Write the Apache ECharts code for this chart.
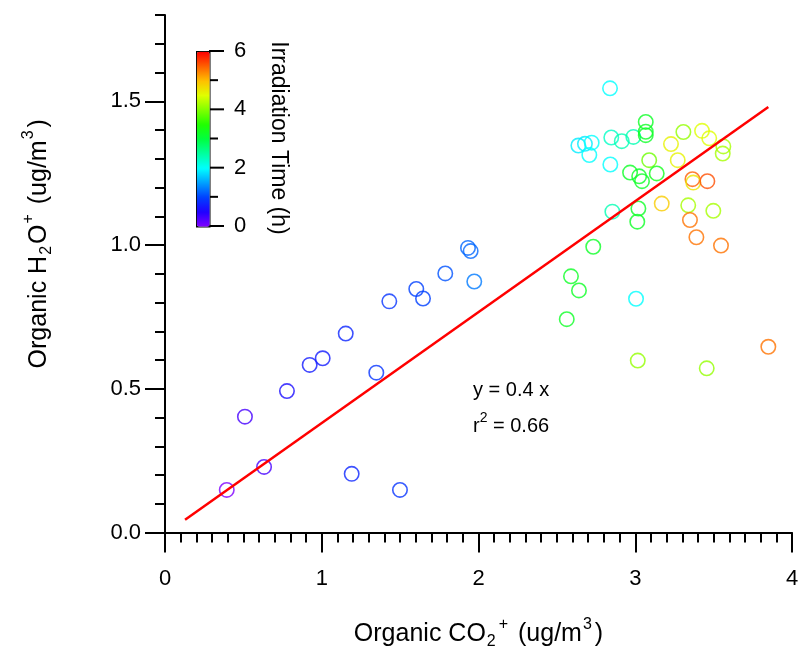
<!DOCTYPE html>
<html><head><meta charset="utf-8">
<script src="https://cdn.jsdelivr.net/npm/echarts@6/dist/echarts.min.js"></script>
<style>html,body{margin:0;padding:0;background:#fff}#c{width:804px;height:655px}</style>
</head><body><div id="c"></div>
<script>
// ---- data ----
const co2 = [0.394,0.510,0.632,0.778,0.923,1.006,1.153,1.348,1.191,1.499,1.431,1.603,1.646,1.788,1.933,1.950,1.973,
  2.839,2.637,2.679,2.722,2.707,2.847,2.841,2.914,2.988,3.067,3.067,3.067,3.089,2.967,3.025,3.043,3.137,2.854,3.020,3.013,2.732,
  3.169,3.228,3.271,3.307,3.426,3.472,3.562,3.558,3.365,3.370,3.460,3.338,3.498,3.349,3.390,3.547,
  2.590,2.641,2.563,3.005,3.016,3.456,3.849];
const h2o = [0.148,0.403,0.228,0.492,0.583,0.606,0.692,0.556,0.204,0.148,0.804,0.847,0.814,0.901,0.990,0.979,0.873,
  1.545,1.346,1.352,1.356,1.313,1.374,1.280,1.361,1.376,1.428,1.394,1.382,1.295,1.252,1.239,1.222,1.249,1.116,1.127,1.081,0.994,
  1.144,1.351,1.295,1.393,1.397,1.371,1.343,1.318,1.229,1.217,1.222,1.138,1.119,1.087,1.027,0.998,
  0.891,0.842,0.742,0.813,0.598,0.571,0.646];
const irrTime = [0.0,0.3,0.3,0.6,0.7,0.7,0.8,0.9,0.8,0.9,0.9,1.0,1.0,1.1,1.2,1.2,1.3,
  2.0,1.9,1.9,2.0,2.0,2.3,2.0,2.4,2.4,3.2,3.2,3.2,3.9,3.2,3.2,3.2,3.3,2.4,3.2,3.2,3.2,
  4.9,4.6,4.6,4.1,4.5,4.5,4.2,4.2,5.5,4.7,5.6,4.2,4.2,5.4,5.4,5.4,
  3.2,3.2,3.2,2.0,4.1,4.1,5.4];
const fitX = [0.128, 3.849];
const fitY = [0.044, 1.480];
const xTicks = [0, 1, 2, 3, 4];
const yTicks = [0.0, 0.5, 1.0, 1.5];
const cbTicks = [0, 2, 4, 6];
const cbMinorTicks = [1, 3, 5];
const fitLabel = 'y = 0.4 x';
const r2Label = '0.66';

// ---- chart ----
const rainbow = ['#8000ff','#2000ff','#0040ff','#00a0ff','#00ffff','#00ffa0','#00ff40','#20ff00','#80ff00','#e0ff00','#ffbf00','#ff6000','#ff0000'];
const FONT = '"Liberation Sans", Arial, sans-serif';
const yMinor = [];
for (let i = 1; i <= 18; i++) { const v = i / 10; if (i % 5 !== 0) yMinor.push(v); }

const scatterData = co2.map((x, i) => [x, h2o[i], irrTime[i]]);
const fitData = fitX.map((x, i) => [x, fitY[i]]);
const ring = 'path://M0,-10A10,10,0,1,1,0,10A10,10,0,1,1,0,-10ZM0,-8A8,8,0,1,0,0,8A8,8,0,1,0,0,-8Z';

const cb = {left: 196, top: 51, w: 13, h: 175};
const cbY = t => cb.top + cb.h * (1 - t / 6);
const graphics = [];
cbTicks.forEach(t => {
  graphics.push({type:'line', shape:{x1:cb.left+cb.w, y1:cbY(t), x2:cb.left+cb.w+15, y2:cbY(t)}, style:{stroke:'#000', lineWidth:2}});
  graphics.push({type:'text', x: cb.left+cb.w+25, y: cbY(t), style:{text:String(t), fontSize:22, fontFamily:FONT, fill:'#000', verticalAlign:'middle', align:'left'}});
});
cbMinorTicks.forEach(t => {
  graphics.push({type:'line', shape:{x1:cb.left+cb.w, y1:cbY(t), x2:cb.left+cb.w+9, y2:cbY(t)}, style:{stroke:'#000', lineWidth:2}});
});
graphics.push({type:'text', x: 278, y: 138, rotation: -Math.PI/2,
  style:{text:'Irradiation Time (h)', fontSize:23, fontFamily:FONT, fill:'#000', align:'center', verticalAlign:'middle'}});
graphics.push({type:'text', x: 473, y: 390, style:{text:fitLabel, fontSize:20, fontFamily:FONT, fill:'#000', verticalAlign:'middle'}});
graphics.push({type:'text', x: 473, y: 426, style:{text:'r{sup|2} = ' + r2Label, fontSize:20, fontFamily:FONT, fill:'#000', verticalAlign:'middle',
  rich:{sup:{fontSize:14, fontFamily:FONT, padding:[0,0,16,0]}}}});

const richName = {
  b:{fontSize:25, fontFamily:FONT, color:'#000'},
  sub:{fontSize:16, fontFamily:FONT, color:'#000', padding:[15,2,0,1]},
  sup:{fontSize:16, fontFamily:FONT, color:'#000', padding:[0,3,20,1]}
};

const chart = echarts.init(document.getElementById('c'));
chart.setOption({
  animation: false,
  backgroundColor: '#fff',
  grid: {left: 165, right: 12, top: 15, bottom: 120, containLabel: false},
  xAxis: {
    type: 'value', min: xTicks[0], max: xTicks[xTicks.length-1], interval: 1,
    axisLine: {onZero:false, lineStyle:{color:'#000', width:2}},
    axisTick: {length: 20, lineStyle:{color:'#000', width:2}},
    minorTick: {show:true, splitNumber:10, length:10, lineStyle:{color:'#000', width:2}},
    axisLabel: {fontSize:22, fontFamily:FONT, color:'#000', margin:35},
    splitLine: {show:false},
    name: '{b|Organic CO}{sub|2}{sup|+}{b| (ug/m}{sup|3}{b|)}',
    nameLocation: 'middle', nameGap: 84,
    nameTextStyle: {rich: richName}
  },
  yAxis: [{
    type: 'value', min: 0, max: 1.8,
    axisLine: {onZero:false, lineStyle:{color:'#000', width:2}},
    axisTick: {customValues: yTicks, length: 20, lineStyle:{color:'#000', width:2}},
    axisLabel: {customValues: yTicks, formatter: v => v.toFixed(1), fontSize:22, fontFamily:FONT, color:'#000', margin:24},
    splitLine: {show:false},
    name: '{b|Organic H}{sub|2}{b|O}{sup|+}{b| (ug/m}{sup|3}{b|)}',
    nameLocation: 'middle', nameGap: 108, nameRotate: 90,
    nameTextStyle: {rich: richName, padding: [0, 0, 0, 60]}
  }, {
    type: 'value', min: 0, max: 1.8, position: 'left',
    axisLine: {show:false},
    axisTick: {show:true, customValues: yMinor, length: 10, lineStyle:{color:'#000', width:2}},
    axisLabel: {show:false},
    splitLine: {show:false}
  }],
  visualMap: {
    type: 'continuous', min: 0, max: 6, dimension: 2, seriesIndex: 0,
    inRange: {color: rainbow},
    show: true, left: cb.left, top: cb.top, itemWidth: cb.w, itemHeight: cb.h,
    text: null, calculable: false, hoverLink: false, padding: 0,
    borderColor: '#000', borderWidth: 1.5
  },
  series: [{
    type: 'scatter', data: scatterData, symbol: ring, symbolSize: 16, z: 2
  }, {
    type: 'line', data: fitData, showSymbol: false, symbol: 'none', z: 3,
    lineStyle: {color: '#ff0000', width: 2.5}
  }],
  graphic: graphics
});
</script></body></html>
